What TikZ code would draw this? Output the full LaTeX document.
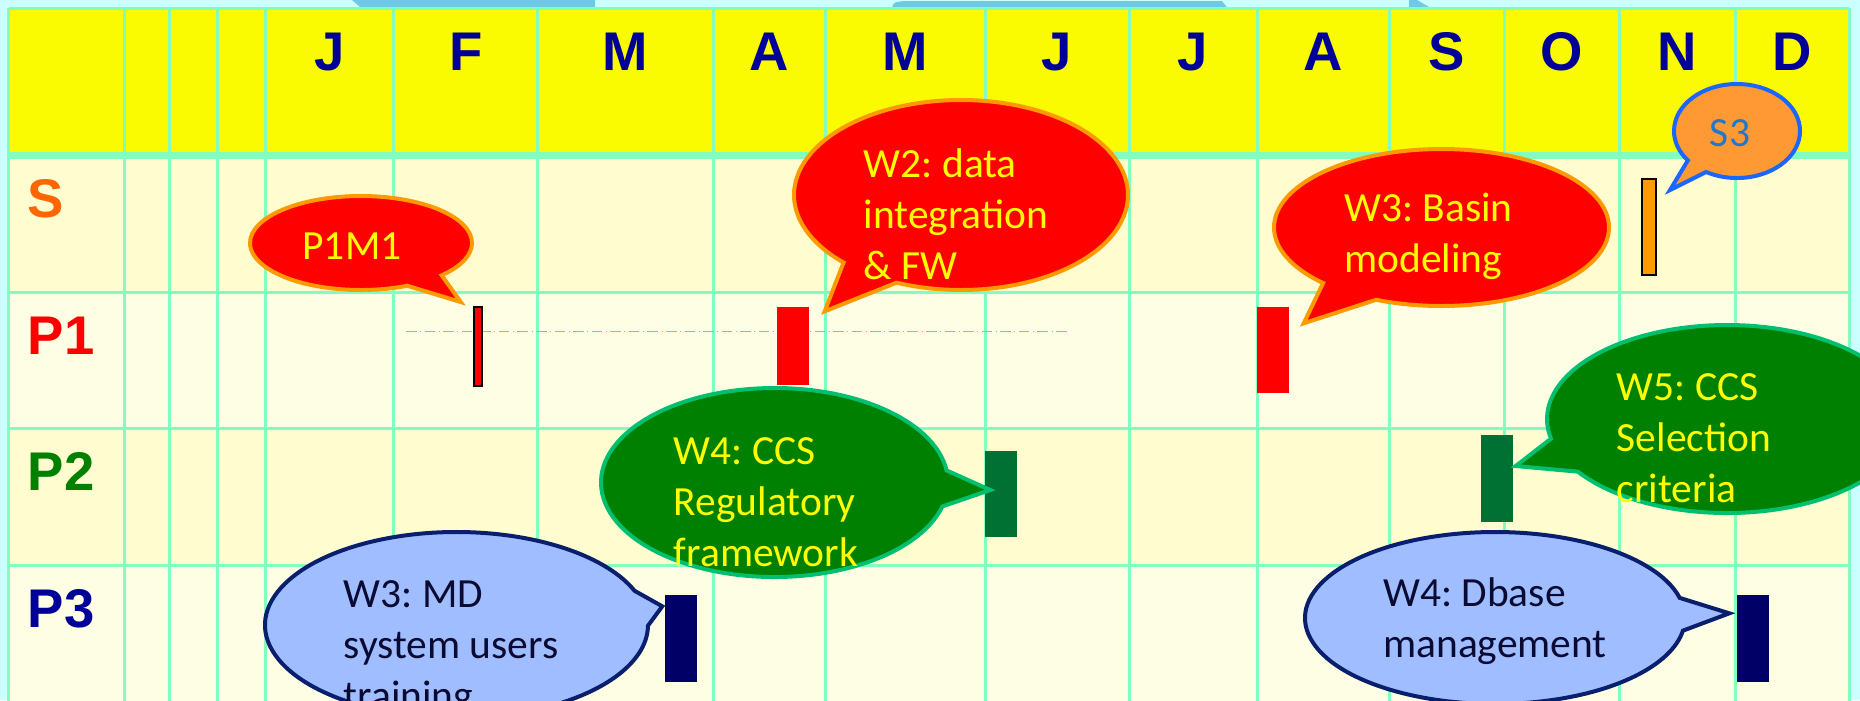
\documentclass[tikz,border=0pt]{standalone}
\usepackage{fontspec}
\setmainfont{Carlito}
\newfontfamily\headfont{Liberation Sans}
\usetikzlibrary{shapes.callouts}
\frenchspacing

\definecolor{skycyan}{RGB}{204,255,255}
\definecolor{headyellow}{RGB}{250,250,0}
\definecolor{rowdark}{RGB}{255,253,208}
\definecolor{rowlight}{RGB}{254,254,228}
\definecolor{gridgreen}{RGB}{128,255,192}
\definecolor{bannerblue}{RGB}{110,200,230}
\definecolor{monthblue}{RGB}{0,0,153}
\definecolor{sorange}{RGB}{255,102,0}
\definecolor{pgreen}{RGB}{0,128,0}
\definecolor{barorange}{RGB}{255,153,0}
\definecolor{bargreen}{RGB}{0,112,51}
\definecolor{barnavy}{RGB}{0,0,102}
\definecolor{rimorange}{RGB}{255,153,0}
\definecolor{rimgreen}{RGB}{0,192,112}
\definecolor{rimnavy}{RGB}{10,30,110}
\definecolor{rimblue}{RGB}{26,102,255}
\definecolor{sthreefill}{RGB}{255,153,51}
\definecolor{sthreetext}{RGB}{30,120,210}
\definecolor{paleblue}{RGB}{160,190,255}
\definecolor{inkblue}{RGB}{10,10,50}
\definecolor{dashblue}{RGB}{112,192,224}
\definecolor{textyellow}{RGB}{255,255,0}

\begin{document}
\begin{tikzpicture}[x=0.1mm,y=-0.1mm,
    gridln/.style={draw=gridgreen,line width=0.3mm},
    msbar/.style={rectangle,inner sep=0pt,minimum width=3.2mm,minimum height=8.7mm},
    callbox/.style={ellipse callout,callout pointer arc=22,inner sep=0pt,line width=0.4mm},
    calltext/.style={align=left,inner sep=0pt,font=\fontsize{11.8}{14.5}\selectfont},
    monthlbl/.style={anchor=base,inner sep=0pt,text=monthblue,
        font=\headfont\bfseries\fontsize{15.5}{18}\selectfont},
    rowlbl/.style={anchor=base west,inner sep=0pt,
        font=\headfont\bfseries\fontsize{15.5}{18}\selectfont}]
    \useasboundingbox (0,0) rectangle (1860,700);
    \clip (0,0) rectangle (1860,700);
    % backgrounds of the table
    \fill[skycyan] (0,0) rectangle (1860,700);
    \fill[headyellow] (8.7,8) rectangle (1849,156);
    \fill[rowdark] (8.7,156) rectangle (1849,292);
    \fill[rowlight] (8.7,292) rectangle (1849,428);
    \fill[rowdark] (8.7,428) rectangle (1849,565);
    \fill[rowlight] (8.7,565) rectangle (1849,710);
    % banner cut off above the table
    \fill[bannerblue] (352,0) -- (595,0) -- (595,7) -- (360,7) -- cycle;
    \fill[bannerblue] (892,7.5) .. controls (894,2) .. (905,1) -- (1222,1) -- (1227,7.5) -- cycle;
    \fill[bannerblue] (1409,0) -- (1417,0) -- (1430,7.5) -- (1409,7.5) -- cycle;
    % grid
    \foreach \xc in {8.7,124.5,169,217.5,265.7,393.8,537.8,713,825.6,985.4,1129,1257,1389.5,1504,1619.6,1735,1849}
        \draw[gridln] (\xc,8) -- (\xc,710);
    \foreach \yr in {8,292,428,565}
        \draw[gridln] (8.7,\yr) -- (1849,\yr);
    \draw[gridln,line width=0.77mm] (8.7,155.5) -- (1849,155.5);
    % months and rows
    \foreach \xm/\mon in {330/J,466/F,625/M,769/A,905/M,1057/J,1193/J,1323/A,1447/S,1562/O,1677/N,1792/D}
        \node[monthlbl] (m\xm) at (\xm,70) {\mon};
    \node[rowlbl,text=sorange] (rs) at (27,217) {S};
    \node[rowlbl,text=red] (rpone) at (27,354) {P1};
    \node[rowlbl,text=pgreen] (rptwo) at (27,490) {P2};
    \node[rowlbl,text=monthblue] (rpthree) at (27,627) {P3};
    \draw[dashblue,line width=0.1mm,densely dash dot] (406,331) -- (1070,331);
    % milestones
    \node[msbar,fill=red,draw=black,line width=0.2mm,minimum width=0.85mm,minimum height=7.9mm] (p1a) at (478,346.5) {};
    \node[msbar,fill=red,minimum height=7.8mm] (p1b) at (793,346) {};
    \node[msbar,fill=red,minimum height=8.6mm] (p1c) at (1273,350) {};
    \node[msbar,fill=barorange,draw=black,line width=0.2mm,minimum width=1.4mm,minimum height=9.6mm] (sa) at (1649,227) {};
    \node[msbar,fill=bargreen,minimum height=8.6mm] (p2a) at (1001,494) {};
    \node[msbar,fill=bargreen] (p2b) at (1497,478.5) {};
    \node[msbar,fill=barnavy] (p3a) at (681,638.5) {};
    \node[msbar,fill=barnavy] (p3b) at (1753,638.5) {};
    % call-outs
    \node[callbox,fill=red,draw=rimorange,minimum width=22.2mm,minimum height=9.4mm,
        callout absolute pointer={([shift={(-12,-4)}]p1a.north west)}] (p1m1) at (361,243) {};
    \node[calltext,text=textyellow] (p1m1txt) at (352,246) {P1M1};
    \node[callbox,fill=red,draw=rimorange,minimum width=33.4mm,minimum height=19mm,
        callout absolute pointer={([shift={(15,5)}]p1b.north east)}] (wtwo) at (961,195) {};
    \node[calltext,text=textyellow] (wtwotxt) at (956,214) {W2: data\\integration\\\& FW};
    \node[callbox,fill=red,draw=rimorange,minimum width=33.5mm,minimum height=15.7mm,
        callout absolute pointer={([shift={(14,17)}]p1c.north east)}] (wthreeb) at (1441.5,227.5) {};
    \node[calltext,text=textyellow] (wthreebtxt) at (1428.5,236) {W3: Basin\\modeling};
    \node[callbox,fill=sthreefill,draw=rimblue,minimum width=12.6mm,minimum height=9.4mm,
        callout absolute pointer={([shift={(13,12)}]sa.north east)}] (sthree) at (1737,131) {};
    \node[calltext,text=sthreetext] (sthreetxt) at (1730,133) {S3};
    \node[callbox,fill=pgreen,draw=rimgreen,minimum width=34.7mm,minimum height=18.9mm,
        callout absolute pointer={([shift={(6,-4)}]p2a.west)}] (wfourc) at (774.5,482.5) {};
    \node[calltext,text=textyellow] (wfourctxt) at (766,502) {W4: CCS\\Regulatory\\framework};
    \node[callbox,fill=pgreen,draw=rimgreen,minimum width=36mm,minimum height=18.8mm,
        callout absolute pointer={([shift={(2,-12.5)}]p2b.east)}] (wfive) at (1727,419) {};
    \node[calltext,text=textyellow] (wfivetxt) at (1694,438) {W5: CCS\\Selection\\criteria};
    \node[callbox,fill=paleblue,draw=rimnavy,minimum width=38.3mm,minimum height=18.6mm,
        callout absolute pointer={([shift={(-2,12)}]p3a.north west)}] (wthreem) at (456.5,625) {};
    \node[calltext,text=inkblue] (wthreemtxt) at (451,649) {W3: MD\\system users\\training};
    \node[callbox,fill=paleblue,draw=rimnavy,minimum width=38mm,minimum height=17.2mm,
        callout absolute pointer={([shift={(-7,19)}]p3b.north west)}] (wfourd) at (1495,618) {};
    \node[calltext,text=inkblue] (wfourdtxt) at (1495,621) {W4: Dbase\\management};
\end{tikzpicture}
\end{document}
